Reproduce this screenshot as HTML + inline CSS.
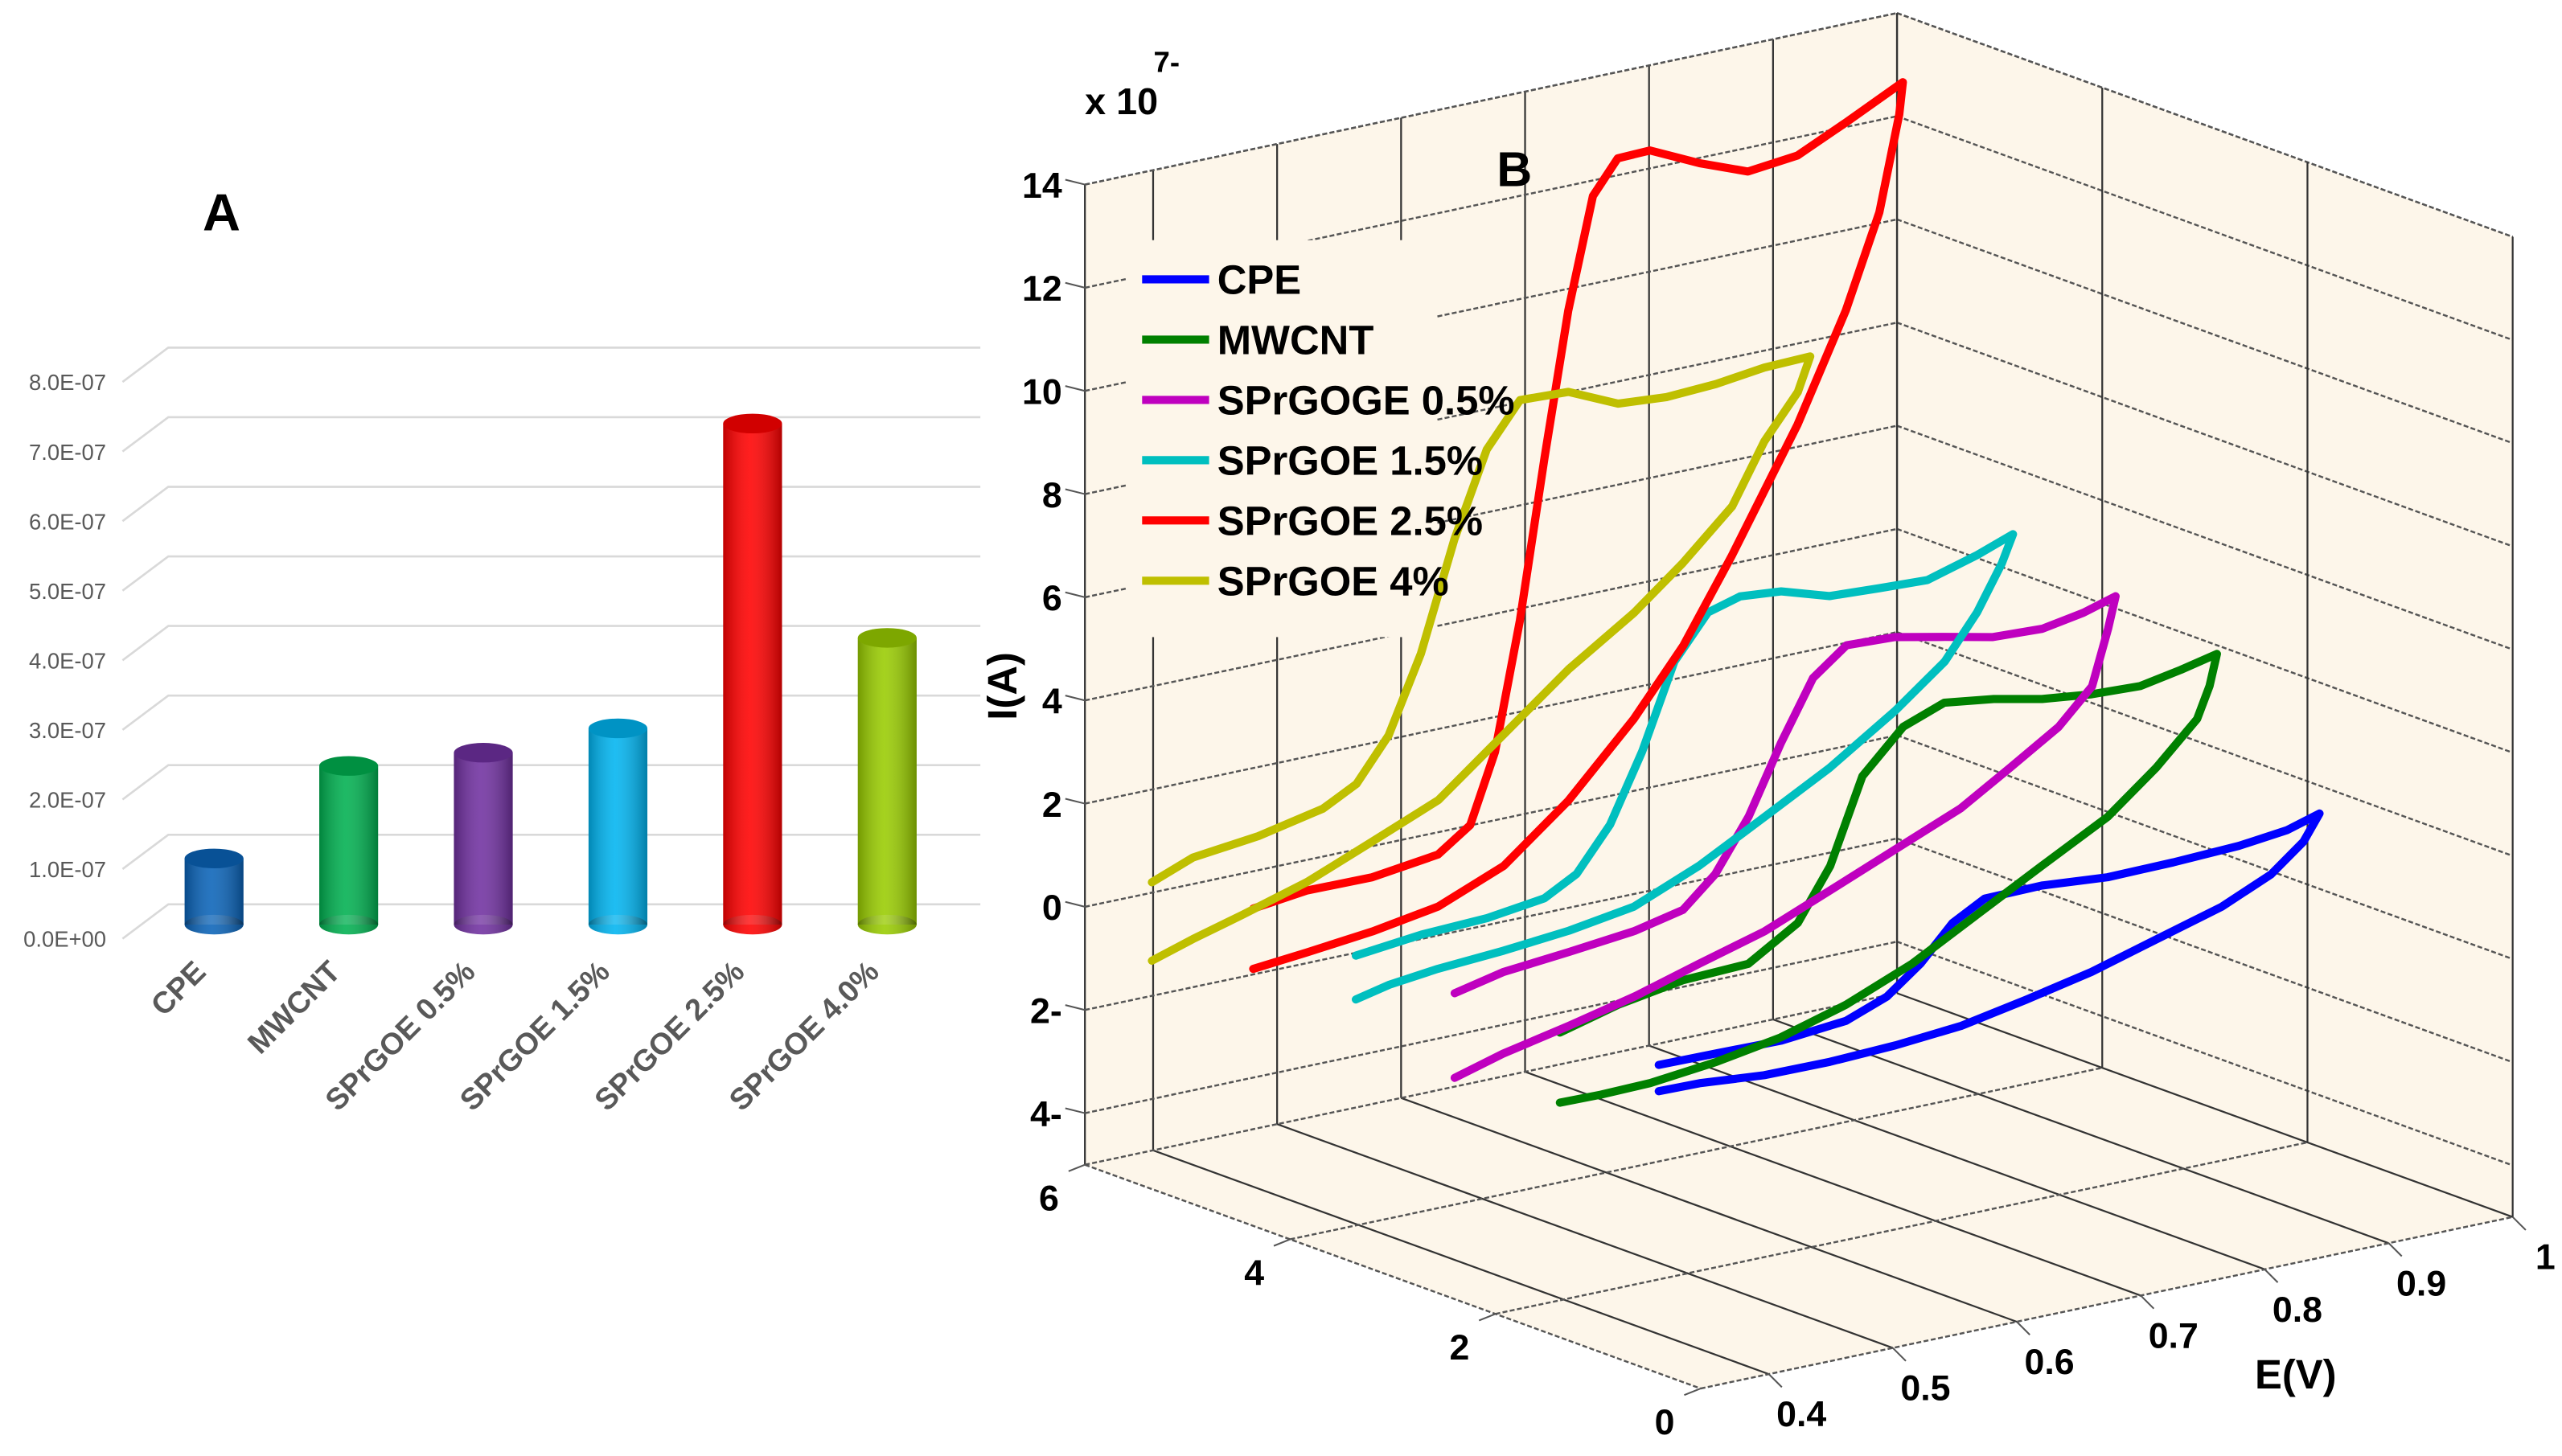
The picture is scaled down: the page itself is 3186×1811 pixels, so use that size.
<!DOCTYPE html>
<html><head><meta charset="utf-8"><style>
html,body{margin:0;padding:0;background:#fff;}
svg{display:block;}
</style></head><body>
<svg id="fig" xmlns="http://www.w3.org/2000/svg" width="3186" height="1811" viewBox="0 0 1568 891.3" preserveAspectRatio="none" font-family="'Liberation Sans', sans-serif">
<rect x="0" y="0" width="1568" height="891.3" fill="#ffffff"/>
<defs>
<linearGradient id="gshade" x1="0" x2="1" y1="0" y2="0">
<stop offset="0" stop-color="#000" stop-opacity="0.25"/>
<stop offset="0.45" stop-color="#fff" stop-opacity="0.12"/>
<stop offset="1" stop-color="#000" stop-opacity="0.3"/>
</linearGradient>
</defs>
<g id="panelA"></g>
<g id="panelB"></g>
</svg>
<script>
// ---------- Panel A data ----------
const barCategories = ["CPE","MWCNT","SPrGOE 0.5%","SPrGOE 1.5%","SPrGOE 2.5%","SPrGOE 4.0%"];
const barValues = [0.95e-7, 2.28e-7, 2.47e-7, 2.82e-7, 7.2e-7, 4.12e-7];
const barColors = ["#0a63b8","#00b050","#7030a0","#00b4f0","#ff0000","#99cc00"];
const barTickValues = [0,1e-7,2e-7,3e-7,4e-7,5e-7,6e-7,7e-7,8e-7];
const barTickLabels = ["0.0E+00","1.0E-07","2.0E-07","3.0E-07","4.0E-07","5.0E-07","6.0E-07","7.0E-07","8.0E-07"];

// ---------- Panel B data (E in V, I in 1e-7 A) ----------
const cvNames = ["CPE","MWCNT","SPrGOGE 0.5%","SPrGOE 1.5%","SPrGOE 2.5%","SPrGOE  4%"];
const cvColors = ["#0000ff","#008000","#bf00bf","#00bfbf","#ff0000","#bfbf00"];
const cvDepth = [1,2,3,4,5,6];
const cpeE = [0.394,0.440,0.493,0.545,0.578,0.605,0.631,0.657,0.703,0.756,0.809,0.862,0.901,0.927,0.914,0.888,0.848,0.796,0.743,0.690,0.638,0.585,0.532,0.479,0.427,0.394];
const cpeI = [0.30,0.29,0.27,0.39,0.69,1.19,1.85,2.19,2.21,2.10,2.12,2.17,2.28,2.47,1.99,1.49,1.06,0.70,0.33,0.06,-0.18,-0.29,-0.34,-0.33,-0.22,-0.21];
const mwE = [0.397,0.444,0.496,0.549,0.589,0.615,0.641,0.674,0.707,0.747,0.786,0.826,0.865,0.898,0.927,0.921,0.911,0.878,0.839,0.786,0.733,0.681,0.628,0.575,0.523,0.470,0.430,0.397];
const mwI = [0.19,0.49,0.70,0.75,1.34,2.31,3.92,4.71,5.01,4.88,4.68,4.57,4.53,4.68,4.84,4.25,3.66,2.88,2.13,1.45,0.76,0.08,-0.44,-0.81,-1.02,-1.16,-1.18,-1.17];
const s05E = [0.395,0.434,0.487,0.540,0.579,0.605,0.632,0.658,0.684,0.711,0.750,0.790,0.829,0.869,0.902,0.928,0.922,0.909,0.882,0.843,0.803,0.750,0.698,0.645,0.592,0.540,0.487,0.434,0.395];
const s05I = [0.24,0.45,0.57,0.71,0.92,1.48,2.46,3.75,4.88,5.38,5.34,5.14,4.94,4.90,5.04,5.23,4.63,3.58,2.93,2.34,1.75,1.22,0.70,0.17,-0.19,-0.56,-0.86,-1.13,-1.40];
const s15E = [0.398,0.451,0.504,0.550,0.576,0.603,0.629,0.655,0.682,0.708,0.741,0.780,0.820,0.859,0.899,0.928,0.919,0.899,0.873,0.833,0.780,0.728,0.675,0.622,0.570,0.517,0.464,0.425,0.398];
const s15I = [0.23,0.37,0.42,0.57,0.91,1.73,3.02,4.63,5.44,5.62,5.55,5.26,5.21,5.17,5.45,5.71,5.19,4.34,3.52,2.77,1.93,1.25,0.57,0.04,-0.16,-0.28,-0.36,-0.47,-0.62];
const s25E = [0.398,0.441,0.494,0.547,0.573,0.593,0.613,0.633,0.652,0.672,0.692,0.718,0.758,0.797,0.837,0.876,0.922,0.919,0.903,0.876,0.837,0.784,0.745,0.705,0.652,0.600,0.547,0.494,0.441,0.398];
const s25I = [0.42,0.55,0.54,0.71,1.15,2.47,4.91,7.97,10.72,12.84,13.47,13.49,13.04,12.68,12.79,13.23,13.78,13.17,11.35,9.59,7.57,5.30,3.76,2.54,1.22,0.22,-0.30,-0.51,-0.65,-0.75];
const s4E = [0.399,0.432,0.485,0.537,0.564,0.590,0.616,0.643,0.669,0.696,0.735,0.775,0.814,0.854,0.893,0.930,0.920,0.893,0.867,0.827,0.788,0.735,0.682,0.630,0.577,0.524,0.472,0.432,0.399];
const s4I = [0.20,0.51,0.66,0.93,1.27,2.08,3.53,5.61,7.22,8.04,8.00,7.57,7.50,7.55,7.67,7.70,7.06,6.24,5.11,4.21,3.45,2.62,1.61,0.62,0.09,-0.43,-0.80,-1.07,-1.32];
const cvE = [cpeE, mwE, s05E, s15E, s25E, s4E];
const cvI = [cpeI, mwI, s05I, s15I, s25I, s4I];
const zTicks = [-4,-2,0,2,4,6,8,10,12,14];
const zTickLabels = ["4-","2-","0","2","4","6","8","10","12","14"];
const eTicks = [0.4,0.5,0.6,0.7,0.8,0.9,1.0];
const eTickLabels = ["0.4","0.5","0.6","0.7","0.8","0.9","1"];
const dTicks = [0,2,4,6];
const dTickLabels = ["0","2","4","6"];

const NS = "http://www.w3.org/2000/svg";
function mk(parent, tag, attrs, text){
  const el = document.createElementNS(NS, tag);
  for (const k in attrs) el.setAttribute(k, attrs[k]);
  if (text !== undefined) el.textContent = text;
  parent.appendChild(el);
  return el;
}

// ---------- Panel A ----------
const A = document.getElementById('panelA');
const aBase = 566, aUnit = 42.6e7, aGridBase = 553.6;
function aY(v){ return aBase - v*aUnit; }
function aGY(v){ return aGridBase - v*aUnit; }
const aTitle = mk(A,'text',{x:124,y:141,'font-size':32,'font-weight':'bold',fill:'#000'},'A');


barTickValues.forEach((v,i)=>{
  const gy = aGY(v);
  const gl = mk(A,'polyline',{points:`75,${gy+21} 103,${gy} 600,${gy}`,fill:'none',stroke:'#d9d9d9','stroke-width':1.3});
  
  
  const t = mk(A,'text',{x:65,y:gy+26,'font-size':13.5,fill:'#595959','text-anchor':'end'},barTickLabels[i]);
  
  
});
const barStep = 82.4, barX0 = 131, barW = 36, ry = 6;
barCategories.forEach((c,i)=>{
  const cx = barX0 + i*barStep;
  const top = aY(barValues[i]);
  const g = mk(A,'g',{});
  
  
  mk(g,'ellipse',{cx:cx,cy:aBase,rx:barW/2,ry:ry,fill:barColors[i]});
  mk(g,'rect',{x:cx-barW/2,y:top,width:barW,height:aBase-top,fill:barColors[i]});
  mk(g,'rect',{x:cx-barW/2,y:top,width:barW,height:aBase-top,fill:'url(#gshade)'});
  mk(g,'ellipse',{cx:cx,cy:aBase,rx:barW/2,ry:ry,fill:'url(#gshade)'});
  mk(g,'ellipse',{cx:cx,cy:top,rx:barW/2,ry:ry,fill:barColors[i]});
  mk(g,'ellipse',{cx:cx,cy:top,rx:barW/2,ry:ry,fill:'#000','fill-opacity':0.18});
  const lx = cx-4, ly = 596;
  const t = mk(A,'text',{x:lx,y:ly,'font-size':18.5,'font-weight':'bold',fill:'#595959','text-anchor':'end',transform:`rotate(-45 ${lx} ${ly})`},c);
  
  
});

// ---------- Panel B ----------
const B = document.getElementById('panelB');
const Emin = 0.345, Emax = 1.0, zMin = -5, zMax = 14, dMax = 6;
const O = [664, 713];
const pxE = 758.8, pyE = -160.3, pxD = -62.8, pyD = -22.83, pz = 31.58;
function P(E,d,z){
  return [O[0] + (E-Emin)*pxE + (d-dMax)*pxD, O[1] + (E-Emin)*pyE + (d-dMax)*pyD - (z-zMin)*pz];
}
function pts(arr){ return arr.map(p=>p[0].toFixed(1)+','+p[1].toFixed(1)).join(' '); }
const wallFill = '#fdf6ea';
const w1 = mk(B,'polygon',{points:pts([P(Emin,6,zMin),P(Emax,6,zMin),P(Emax,6,zMax),P(Emin,6,zMax)]),fill:wallFill});


const w2 = mk(B,'polygon',{points:pts([P(Emax,6,zMin),P(Emax,0,zMin),P(Emax,0,zMax),P(Emax,6,zMax)]),fill:wallFill});


const w3 = mk(B,'polygon',{points:pts([P(Emin,6,zMin),P(Emax,6,zMin),P(Emax,0,zMin),P(Emin,0,zMin)]),fill:wallFill});



const grid = mk(B,'g',{fill:'none',stroke:'#555','stroke-width':1.2});


const dash = '3,1.5';
function gline(a,b,solid){ mk(grid,'line',{x1:a[0],y1:a[1],x2:b[0],y2:b[1],'stroke-dasharray':solid?'none':dash,stroke:solid?'#333':'#555','stroke-width':solid?1.1:1.2}); }
eTicks.forEach(E=>{ gline(P(E,6,zMin),P(E,6,zMax),true); gline(P(E,6,zMin),P(E,0,zMin),true); });
gline(P(Emin,6,zMin),P(Emin,6,zMax),true);
zTicks.concat([zMax]).forEach(z=>{ gline(P(Emin,6,z),P(Emax,6,z)); gline(P(Emax,6,z),P(Emax,0,z)); });
dTicks.forEach(d=>{ gline(P(Emax,d,zMin),P(Emax,d,zMax),true); gline(P(Emin,d,zMin),P(Emax,d,zMin)); });
gline(P(Emin,6,zMin),P(Emin,0,zMin));

const lg = mk(B,'rect',{x:690,y:147,width:189,height:243,fill:wallFill});



cvNames.forEach((n,ci)=>{
  const arr = cvE[ci].map((E,k)=>P(E,cvDepth[ci],cvI[ci][k]));
  const pl = mk(B,'polyline',{points:pts(arr),fill:'none',stroke:cvColors[ci],'stroke-width':5,'stroke-linejoin':'round','stroke-linecap':'round'});
  
  
});

zTicks.forEach((z,i)=>{
  const p = P(Emin,6,z);
  mk(B,'line',{x1:p[0],y1:p[1],x2:p[0]-12,y2:p[1]-3,stroke:'#555','stroke-width':1});
  const t = mk(B,'text',{x:p[0]-14,y:p[1]+8,'font-size':22,'font-weight':'bold','text-anchor':'end',fill:'#000'},zTickLabels[i]);
  
  
});
dTicks.forEach((d,i)=>{
  const p = P(Emin,d,zMin);
  mk(B,'line',{x1:p[0],y1:p[1],x2:p[0]-10,y2:p[1]+4,stroke:'#555','stroke-width':1});
  const t = mk(B,'text',{x:p[0]-22,y:p[1]+28,'font-size':22,'font-weight':'bold','text-anchor':'middle',fill:'#000'},dTickLabels[i]);
  
  
});
eTicks.forEach((E,i)=>{
  const p = P(E,0,zMin);
  mk(B,'line',{x1:p[0],y1:p[1],x2:p[0]+8,y2:p[1]+8,stroke:'#555','stroke-width':1});
  const t = mk(B,'text',{x:p[0]+20,y:p[1]+32,'font-size':22,'font-weight':'bold','text-anchor':'middle',fill:'#000'},eTickLabels[i]);
  
  
});

cvNames.forEach((n,i)=>{
  const y = 171 + i*36.9;
  const g = mk(B,'g',{});
  
  
  mk(g,'line',{x1:699,y1:y,x2:740,y2:y,stroke:cvColors[i],'stroke-width':5});
  mk(g,'text',{x:745,y:y+9,'font-size':25,'font-weight':'bold',fill:'#000','xml:space':'preserve'},n);
});

const t1 = mk(B,'text',{x:664,y:70,'font-size':23,'font-weight':'bold',fill:'#000'},'x 10');


const t2 = mk(B,'text',{x:706,y:44,'font-size':18,'font-weight':'bold',fill:'#000'},'7-');


const t3 = mk(B,'text',{x:916,y:114,'font-size':30,'font-weight':'bold',fill:'#000'},'B');


const t4 = mk(B,'text',{x:622,y:420,'font-size':25,'font-weight':'bold',fill:'#000','text-anchor':'middle',transform:'rotate(-90 622 420)'},'I(A)');


const t5 = mk(B,'text',{x:1405,y:850,'font-size':25,'font-weight':'bold',fill:'#000','text-anchor':'middle'},'E(V)');


</script>
</body></html>
